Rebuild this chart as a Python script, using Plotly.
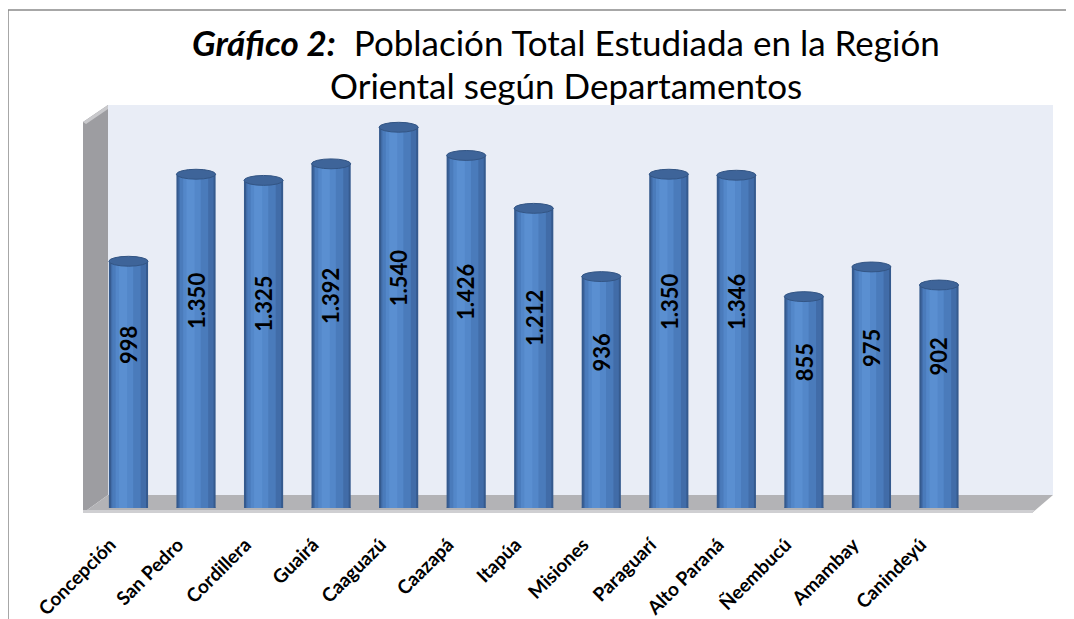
import plotly.graph_objects as go

departamentos = ["Concepción", "San Pedro", "Cordillera", "Guairá", "Caaguazú", "Caazapá",
                 "Itapúa", "Misiones", "Paraguarí", "Alto Paraná", "Ñeembucú", "Amambay", "Canindeyú"]
poblacion = [998, 1350, 1325, 1392, 1540, 1426, 1212, 936, 1350, 1346, 855, 975, 902]
etiquetas = ["998", "1.350", "1.325", "1.392", "1.540", "1.426", "1.212", "936",
             "1.350", "1.346", "855", "975", "902"]

W, H = 1074, 619
OFF = 8  # page body margin compensation
def px(x):
    return (x - OFF) / W
def py(y):
    return 1 - (y - OFF) / H

idx = list(range(len(departamentos)))
FONT = "Lato"

fig = go.Figure()

# cylinder body built from overlaid bars (dark rim -> light highlight)
layers = [
    (0.58, 0.0, "#355a8e"),
    (0.52, 0.0, "#416ca8"),
    (0.42, -0.03, "#4a7bbb"),
    (0.26, -0.06, "#5387c9"),
    (0.12, -0.08, "#5a8fd1"),
]
for w, s, c in layers:
    fig.add_trace(go.Bar(x=idx, y=poblacion, width=w, offset=-w / 2 + s,
                         marker=dict(color=c, line=dict(width=0)),
                         hoverinfo="skip", showlegend=False))

shapes = []
# outer border
shapes.append(dict(type="rect", xref="paper", yref="paper", x0=px(8), x1=px(1100), y0=py(650), y1=py(10),
                   line=dict(color="#8a8a8a", width=1.5), fillcolor="rgba(0,0,0,0)", layer="below"))
# back wall
shapes.append(dict(type="rect", xref="paper", yref="paper", x0=px(108), x1=px(1053), y0=py(495), y1=py(105),
                   line=dict(width=0), fillcolor="#e9edf6", layer="below"))
# left wall
shapes.append(dict(type="path", xref="paper", yref="paper",
                   path=f"M {px(83)},{py(122)} L {px(108)},{py(105)} L {px(108)},{py(495)} L {px(83)},{py(513)} Z",
                   line=dict(width=0), fillcolor="#9d9da1", layer="below"))
shapes.append(dict(type="path", xref="paper", yref="paper",
                   path=f"M {px(83)},{py(122)} L {px(108)},{py(105)} L {px(108)},{py(109)} L {px(86)},{py(124)} Z",
                   line=dict(width=0), fillcolor="#c9c9cc", layer="below"))
# floor
shapes.append(dict(type="path", xref="paper", yref="paper",
                   path=f"M {px(108)},{py(495)} L {px(1053)},{py(495)} L {px(1032)},{py(513)} L {px(83)},{py(513)} Z",
                   line=dict(width=0), fillcolor="#b3b3b6", layer="below"))
shapes.append(dict(type="path", xref="paper", yref="paper",
                   path=f"M {px(83)},{py(510)} L {px(1035)},{py(510)} L {px(1032)},{py(513)} L {px(83)},{py(513)} Z",
                   line=dict(width=0), fillcolor="#cfcfd2", layer="below"))

HW = 0.29
for i, v in zip(idx, poblacion):
    # bottom rounding
    shapes.append(dict(type="circle", xref="x", yref="y", x0=i - HW, x1=i + HW, y0=-20, y1=20,
                       line=dict(width=0), fillcolor="#416ca8", layer="below"))
    # top cap
    shapes.append(dict(type="circle", xref="x", yref="y", x0=i - HW, x1=i + HW, y0=v - 20, y1=v + 20,
                       line=dict(color="#335584", width=1), fillcolor="#3e6499", layer="above"))

annotations = []
for i, v, t in zip(idx, poblacion, etiquetas):
    annotations.append(dict(x=i, y=v / 2, xref="x", yref="y", text=t, showarrow=False,
                            textangle=-90, yshift=40,
                            font=dict(family=FONT, size=22, color="black", weight="bold")))

annotations.append(dict(xref="paper", yref="paper", x=px(566), y=py(42), xanchor="center", yanchor="middle",
                        text="<b><i>Gráfico 2:</i></b>  Población Total Estudiada en la Región",
                        showarrow=False, font=dict(family=FONT, size=35, color="black")))
annotations.append(dict(xref="paper", yref="paper", x=px(566), y=py(85), xanchor="center", yanchor="middle",
                        text="Oriental según Departamentos",
                        showarrow=False, font=dict(family=FONT, size=35, color="black")))

fig.update_layout(
    width=W, height=H,
    margin=dict(l=0, r=0, t=0, b=0, autoexpand=False),
    paper_bgcolor="white", plot_bgcolor="rgba(0,0,0,0)",
    barmode="overlay",
    shapes=shapes, annotations=annotations,
    xaxis=dict(domain=[px(94.7), px(1040.3)], range=[-0.5, 13.5], automargin=False,
               tickmode="array", tickvals=idx, ticktext=departamentos,
               tickangle=-45, ticklabelstandoff=21, ticklabelshift=-18,
               tickfont=dict(family=FONT, size=19, color="black", weight="bold"),
               showgrid=False, zeroline=False, showline=False, ticks=""),
    yaxis=dict(domain=[py(508), py(105)], range=[0, 1630], automargin=False,
               showticklabels=False, showgrid=False, zeroline=False, showline=False, ticks=""),
)

fig.write_html("out.html")
